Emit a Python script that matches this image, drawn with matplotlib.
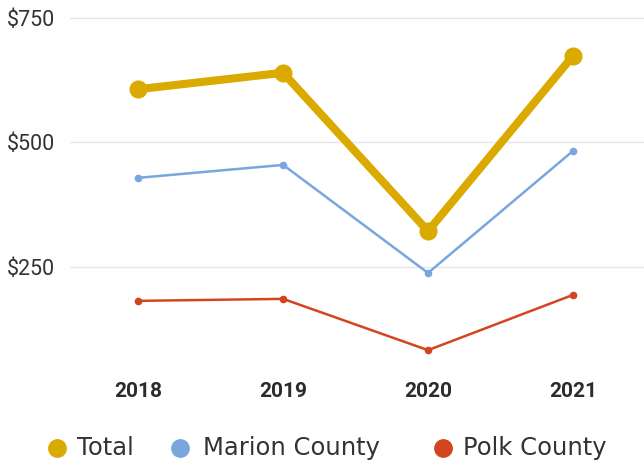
import matplotlib.pyplot as plt
from matplotlib.lines import Line2D

years = ["2018", "2019", "2020", "2021"]
total = [607, 640, 322, 674]
marion = [429, 455, 238, 483]
polk = [182, 186, 83, 194]
yticks = [250, 500, 750]
ytick_labels = ["$250", "$500", "$750"]

c_total = "#DAAA00"
c_marion = "#78A6DE"
c_polk = "#D3451F"

plt.rcParams['font.family'] = ['Roboto', 'DejaVu Sans']

W, H = 644, 466
fig = plt.figure(figsize=(W / 100, H / 100), dpi=100)
ax = fig.add_axes([0.109, 0.2133, 0.891, 0.7695])

x = range(len(years))
ax.plot(x, polk, color=c_polk, lw=1.8, marker="o", ms=4.5, zorder=3)
ax.plot(x, marion, color=c_marion, lw=1.8, marker="o", ms=4.5, zorder=3)
ax.plot(x, total, color=c_total, lw=5.8, marker="o", ms=12, zorder=4,
        solid_joinstyle="round")

ax.set_xlim(-0.469, 3.49)
ax.set_ylim(50, 770)
ax.set_yticks(yticks)
ax.set_yticklabels(ytick_labels, fontsize=15.5, color="#333333")
ax.set_xticks(list(x))
ax.set_xticklabels(years, fontsize=15, fontweight="bold", color="#2b2b2b")
ax.tick_params(axis="y", length=0, pad=11)
ax.tick_params(axis="x", length=0, pad=11)
ax.grid(axis="y", color="#e6e6e6", lw=1)
ax.set_axisbelow(True)
for s in ax.spines.values():
    s.set_visible(False)

# legend, laid out by hand to get the wide spacing of the original
legend_items = [("Total", c_total, 57, 77), ("Marion County", c_marion, 180, 203),
                ("Polk County", c_polk, 443, 463)]
ly = 1 - 448 / H
for label, col, mx, tx in legend_items:
    fig.add_artist(Line2D([mx / W], [ly], ls="none", marker="o", ms=12.5,
                          color=col, transform=fig.transFigure))
    fig.text(tx / W, ly, label, fontsize=17.5, family="DejaVu Sans",
             color="#333333", va="center", ha="left")

fig.savefig("out.png", dpi=100)
